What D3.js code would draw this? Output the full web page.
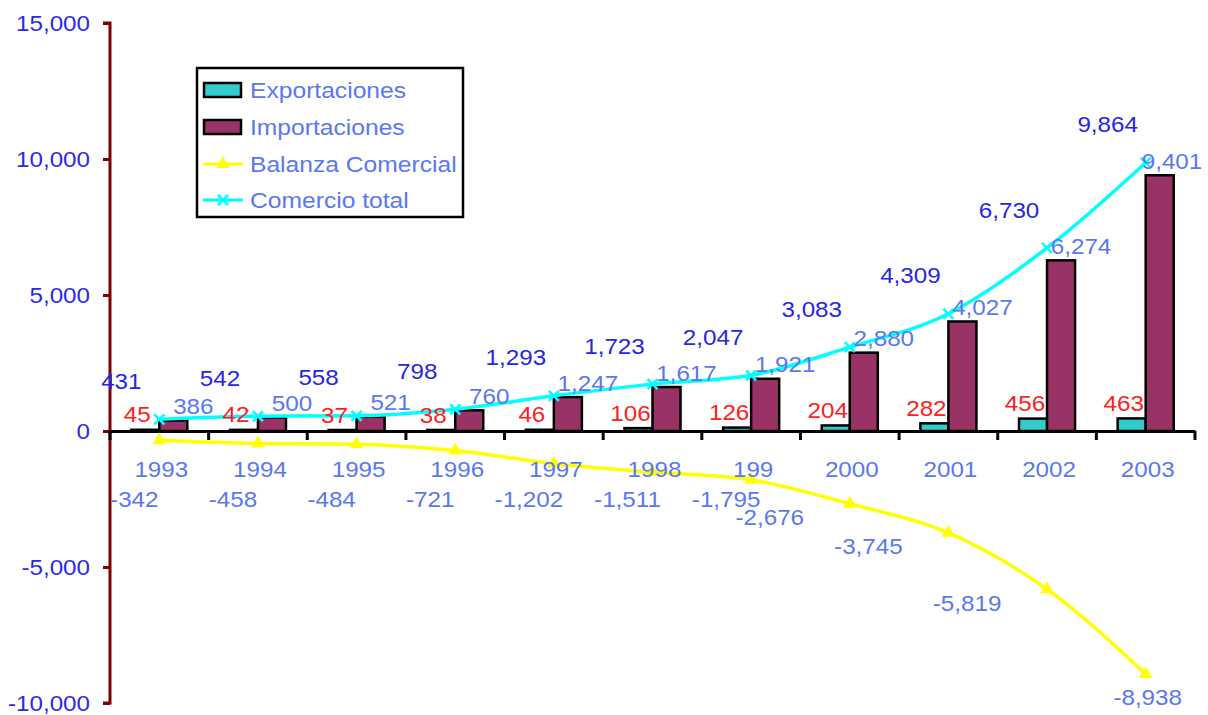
<!DOCTYPE html>
<html><head><meta charset="utf-8">
<script src="https://cdn.jsdelivr.net/npm/d3@7"></script>
<style>body{margin:0;background:#fff}svg{display:block}text{font-family:"Liberation Sans",Arial,sans-serif}</style>
</head><body><svg id="c" width="1208" height="715"></svg>
<script>
const years = ["1993","1994","1995","1996","1997","1998","1999","2000","2001","2002","2003"];
const yearLabels = ["1993","1994","1995","1996","1997","1998","199","2000","2001","2002","2003"];
const exportaciones = [45,42,37,38,46,106,126,204,282,456,463];
const importaciones = [386,500,521,760,1247,1617,1921,2880,4027,6274,9401];
const balanza = [-342,-458,-484,-721,-1202,-1511,-1795,-2676,-3745,-5819,-8938];
const comercio = [431,542,558,798,1293,1723,2047,3083,4309,6730,9864];
const yTicks = [-10000,-5000,0,5000,10000,15000];
const legendItems = ["Exportaciones","Importaciones","Balanza Comercial","Comercio total"];

const svg = d3.select("#c");
const f0 = d3.format(",");
const fmt = v => f0(v).replace("\u2212","-");
const C = {exp:"#33CCCC", imp:"#993366", bal:"#FFFF00", tot:"#00FFFF",
  axisBlue:"#2a2af0", dark:"#2626e6", light:"#5a78f0", red:"#ff2020"};

const x = d3.scaleBand().domain(years).range([110,1195]).padding(0);
const xi = d3.scaleBand().domain(["exp","imp"]).range([0,x.bandwidth()]).paddingInner(0).paddingOuter(0.76);
const y = d3.scaleLinear().domain([-10000,15000]).range([703,23]);
const cx = d => x(d) + x.bandwidth()/2;

function txt(s, px, py, color, anchor="middle", size=22) {
  svg.append("text").attr("transform",`translate(${px},${py}) scale(1.1,1)`)
    .attr("text-anchor",anchor).attr("dominant-baseline","central")
    .attr("font-size",size).attr("fill",color).text(s);
}

// Y axis
const yAxis = svg.append("g").attr("transform","translate(110,0)")
  .call(d3.axisLeft(y).tickValues(yTicks).tickSize(7).tickFormat(""));
yAxis.select(".domain").attr("stroke","#800000").attr("stroke-width",3).attr("d",`M-7,${y(15000)}H0V${y(-10000)}H-7`);
yAxis.selectAll(".tick line").attr("stroke","#800000").attr("stroke-width",3);
yTicks.forEach(t => txt(fmt(t), 90, y(t), C.axisBlue, "end"));

// Bars
const bars = svg.append("g");
years.forEach((yr,i) => {
  bars.append("rect").attr("x", x(yr)+xi("exp")).attr("width", xi.bandwidth())
    .attr("y", y(exportaciones[i])).attr("height", y(0)-y(exportaciones[i]))
    .attr("fill", C.exp).attr("stroke","#000").attr("stroke-width",2.5);
  bars.append("rect").attr("x", x(yr)+xi("imp")).attr("width", xi.bandwidth())
    .attr("y", y(importaciones[i])).attr("height", y(0)-y(importaciones[i]))
    .attr("fill", C.imp).attr("stroke","#000").attr("stroke-width",2.5);
});

// X axis
const xAxis = svg.append("g").attr("transform",`translate(0,${y(0)})`)
  .call(d3.axisBottom(x).tickSize(0).tickFormat(""));
xAxis.select(".domain").attr("stroke","#000").attr("stroke-width",3);
const bounds = years.map(d => x(d)).concat([x.range()[1]]);
xAxis.selectAll(".bt").data(bounds).join("line").attr("class","bt")
  .attr("x1",d=>d).attr("x2",d=>d).attr("y1",0).attr("y2",9).attr("stroke","#000").attr("stroke-width",3);

// Lines
const line = d3.line().x(d=>cx(d[0])).y(d=>y(d[1])).curve(d3.curveMonotoneX);
svg.append("path").datum(years.map((d,i)=>[d,balanza[i]])).attr("d",line)
  .attr("fill","none").attr("stroke",C.bal).attr("stroke-width",3.5);
svg.append("path").datum(years.map((d,i)=>[d,comercio[i]])).attr("d",line)
  .attr("fill","none").attr("stroke",C.tot).attr("stroke-width",3.5);

const tri = d3.symbol().type(d3.symbolTriangle).size(80);
function xMark(g, px, py, col) {
  g.append("path").attr("d",`M${px-5},${py-5}L${px+5},${py+5}M${px-5},${py+5}L${px+5},${py-5}`)
    .attr("stroke",col).attr("stroke-width",2.5);
}
years.forEach((yr,i) => {
  svg.append("path").attr("d",tri).attr("transform",`translate(${cx(yr)},${y(balanza[i])})`).attr("fill",C.bal);
  xMark(svg, cx(yr), y(comercio[i]), C.tot);
});

// Labels
const n = years.length;
years.forEach((yr,i) => {
  txt(yearLabels[i], cx(yr)+2, y(0)+38, C.light);
  txt(fmt(exportaciones[i]), x(yr)+xi("exp")+xi.bandwidth()/2-8, y(exportaciones[i])-15, C.red);
  const ix = Math.min(x(yr)+xi("imp")+xi.bandwidth()/2+20, 1172);
  txt(fmt(importaciones[i]), ix, y(importaciones[i])-14, C.light);
  txt(fmt(comercio[i]), cx(yr)-38, y(comercio[i])-38, C.dark);
  const below = y(balanza[i])+14, floor = y(0)+68;
  let bx, by;
  if (i === n-1) { bx = cx(yr)+2; by = y(balanza[i])+23; }
  else if (below <= floor + 4) { bx = cx(yr)-25; by = floor; }
  else { bx = cx(yr)-80; by = below; }
  txt(fmt(balanza[i]), bx, by, C.light);
});

// Legend
const lg = svg.append("g");
lg.append("rect").attr("x",197).attr("y",68).attr("width",266).attr("height",149)
  .attr("fill","#fff").attr("stroke","#000").attr("stroke-width",2.5);
const rowY = [90,127,164,200];
legendItems.forEach((t,i) => {
  const ry = rowY[i];
  if (i < 2) {
    lg.append("rect").attr("x",204).attr("y",ry-7).attr("width",37).attr("height",14)
      .attr("fill", i===0?C.exp:C.imp).attr("stroke","#000").attr("stroke-width",2.5);
  } else {
    const col = i===2?C.bal:C.tot;
    lg.append("line").attr("x1",203).attr("x2",243).attr("y1",ry).attr("y2",ry).attr("stroke",col).attr("stroke-width",3);
    if (i===2) lg.append("path").attr("d",tri).attr("transform",`translate(223,${ry})`).attr("fill",col);
    else xMark(lg,223,ry,col);
  }
  svg.append("text").attr("transform",`translate(250,${ry}) scale(1.12,1)`).attr("dominant-baseline","central")
    .attr("font-size",22).attr("fill",C.light).text(t);
});
</script></body></html>
